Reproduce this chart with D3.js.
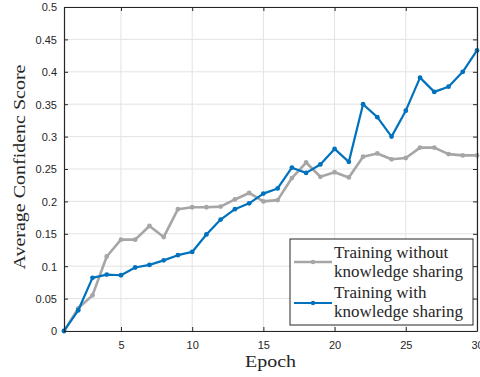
<!DOCTYPE html>
<html>
<head>
    <meta charset='utf-8'>
    <script src='https://cdn.jsdelivr.net/npm/d3@7'></script>
    <title>Average Confidence Score</title>
</head>
<body style="margin:0;background:#fff">
<style>
    body { font-family: "Liberation Sans", Arial, sans-serif; }
    .tick text { font-size: 11px; fill: #262626; }
    .serif { font-family: "Liberation Serif", "Times New Roman", serif; fill: #262626; }
</style>
<div id='chart'></div>
<script>
    // data
    var epochs = d3.range(1, 31);
    var withoutSharing = [0, 0.035, 0.055, 0.115, 0.141, 0.141, 0.162, 0.145, 0.188, 0.191,
        0.191, 0.192, 0.203, 0.213, 0.200, 0.202, 0.236, 0.260, 0.238, 0.245,
        0.237, 0.269, 0.274, 0.265, 0.267, 0.283, 0.283, 0.273, 0.271, 0.271];
    var withSharing = [0, 0.032, 0.082, 0.087, 0.086, 0.098, 0.102, 0.109, 0.117, 0.122,
        0.149, 0.172, 0.188, 0.197, 0.212, 0.220, 0.252, 0.244, 0.257, 0.281,
        0.261, 0.350, 0.330, 0.300, 0.340, 0.391, 0.369, 0.377, 0.400, 0.433];
    var xTicks = [5, 10, 15, 20, 25, 30];
    var yTicks = d3.range(0, 0.5001, 0.05);
    var seriesNames = [['Training without', 'knowledge sharing'], ['Training with', 'knowledge sharing']];

    const W = 480, H = 377;
    const margin = { left: 64, right: 3, top: 7, bottom: 46 };
    const axisColor = '#262626';

    var svg = d3.select('#chart').append('svg')
        .attr('width', W)
        .attr('height', H);

    const x = d3.scaleLinear().domain([1, 30]).range([margin.left, W - margin.right]);
    const y = d3.scaleLinear().domain([0, 0.5]).range([H - margin.bottom, margin.top]);

    // grid
    var grid = svg.append('g');
    grid.selectAll('.gx').data(xTicks).enter().append('line')
        .attr('x1', d => x(d)).attr('x2', d => x(d))
        .attr('y1', y(0)).attr('y2', y(0.5))
        .attr('stroke', '#e3e3e3').attr('stroke-width', 1);
    grid.selectAll('.gy').data(yTicks).enter().append('line')
        .attr('x1', x(1)).attr('x2', x(30))
        .attr('y1', d => y(d)).attr('y2', d => y(d))
        .attr('stroke', '#e3e3e3').attr('stroke-width', 1);

    // series
    var series = [
        { values: withoutSharing, color: '#a6a6a6', width: 2.6 },
        { values: withSharing, color: '#0072bd', width: 2.2 }
    ];
    var line = d3.line().x((d, i) => x(epochs[i])).y(d => y(d));

    series.forEach(function(s) {
        svg.append('path')
            .attr('d', line(s.values))
            .attr('fill', 'none')
            .attr('stroke', s.color)
            .attr('stroke-width', s.width)
            .attr('stroke-linejoin', 'round');
        svg.append('g').selectAll('circle').data(s.values).enter().append('circle')
            .attr('cx', (d, i) => x(epochs[i]))
            .attr('cy', d => y(d))
            .attr('r', 2.4)
            .attr('fill', s.color);
    });

    // axes, MATLAB style box with inward ticks
    var fmt = d => d3.format('')(+d.toFixed(2));
    var ax = svg.append('g').attr('transform', 'translate(0,' + y(0) + ')')
        .call(d3.axisBottom(x).tickValues(xTicks).tickSizeInner(-4).tickSizeOuter(0).tickPadding(10));
    var axTop = svg.append('g').attr('transform', 'translate(0,' + y(0.5) + ')')
        .call(d3.axisTop(x).tickValues(xTicks).tickSizeInner(-4).tickSizeOuter(0).tickFormat(''));
    var ay = svg.append('g').attr('transform', 'translate(' + x(1) + ',0)')
        .call(d3.axisLeft(y).tickValues(yTicks).tickFormat(fmt).tickSizeInner(-4).tickSizeOuter(0).tickPadding(7));
    var ayRight = svg.append('g').attr('transform', 'translate(' + x(30) + ',0)')
        .call(d3.axisRight(y).tickValues(yTicks).tickSizeInner(-4).tickSizeOuter(0).tickFormat(''));

    [ax, axTop, ay, ayRight].forEach(function(g) {
        g.select('.domain').attr('stroke', axisColor).attr('stroke-width', 1.2);
        g.selectAll('.tick line').attr('stroke', axisColor);
        g.selectAll('.tick text').attr('font-family', '"Liberation Sans", Arial, sans-serif');
    });
    ay.selectAll('.tick text').attr('dy', '0.35em');

    // axis labels
    svg.append('text').attr('class', 'serif')
        .attr('x', (x(1) + x(30)) / 2).attr('y', 367)
        .attr('text-anchor', 'middle')
        .attr('font-size', 17)
        .attr('textLength', 51).attr('lengthAdjust', 'spacingAndGlyphs')
        .text('Epoch');
    svg.append('text').attr('class', 'serif')
        .attr('transform', 'translate(25,' + 167 + ') rotate(-90)')
        .attr('text-anchor', 'middle')
        .attr('font-size', 17)
        .attr('textLength', 205).attr('lengthAdjust', 'spacingAndGlyphs')
        .text('Average Confidenc Score');

    // legend
    var lg = svg.append('g').attr('transform', 'translate(290,239)');
    lg.append('rect')
        .attr('width', 183).attr('height', 86)
        .attr('fill', '#fff')
        .attr('stroke', axisColor).attr('stroke-width', 1);
    series.forEach(function(s, i) {
        var cy = 23 + i * 41;
        lg.append('line')
            .attr('x1', 4).attr('x2', 42)
            .attr('y1', cy).attr('y2', cy)
            .attr('stroke', s.color).attr('stroke-width', s.width);
        lg.append('circle').attr('cx', 23).attr('cy', cy).attr('r', 2.2).attr('fill', s.color);
        var t = lg.append('text').attr('class', 'serif').attr('font-size', 17);
        seriesNames[i].forEach(function(txt, j) {
            t.append('tspan').attr('x', 44).attr('y', 19 + i * 40 + j * 19.4).text(txt);
        });
    });
</script>
</body>
</html>
